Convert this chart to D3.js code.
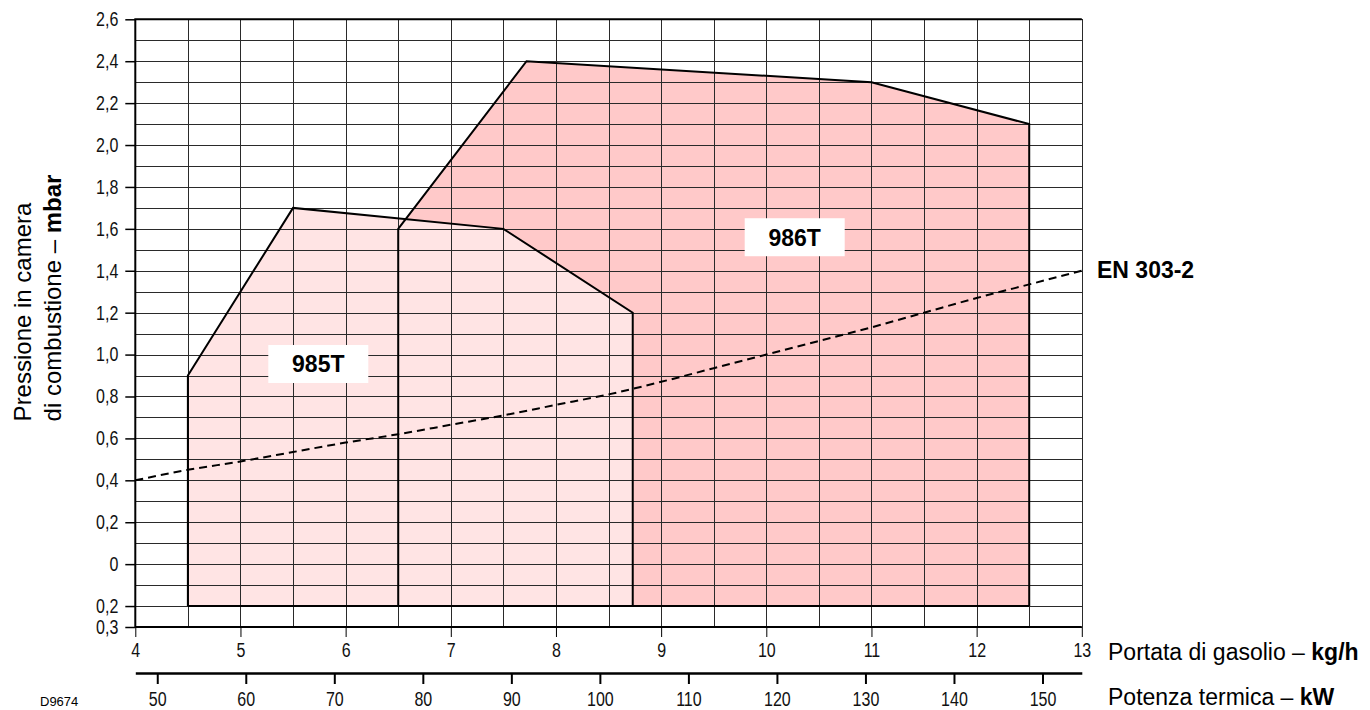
<!DOCTYPE html>
<html>
<head>
<meta charset="utf-8">
<script src="https://cdn.jsdelivr.net/npm/d3@7"></script>
<style>
  body { margin: 0; background: #fff; }
  svg { display: block; }
  .title { font-family: "Liberation Sans", Arial, sans-serif; fill: #000; }
</style>
</head>
<body>
<svg width="1370" height="710"></svg>
<script>
// Axis values.
const kgTicks = [4, 5, 6, 7, 8, 9, 10, 11, 12, 13];
const kwTicks = [50, 60, 70, 80, 90, 100, 110, 120, 130, 140, 150];
const mbarTicks = [-0.3, -0.2, 0, 0.2, 0.4, 0.6, 0.8, 1.0, 1.2, 1.4, 1.6, 1.8, 2.0, 2.2, 2.4, 2.6];
const mbarLabels = ["0,3", "0,2", "0", "0,2", "0,4", "0,6", "0,8", "1,0", "1,2", "1,4", "1,6", "1,8", "2,0", "2,2", "2,4", "2,6"];

// Working fields: [kg/h, mbar]
const field985 = [[4.5, -0.2], [4.5, 0.9], [5.5, 1.7], [7.5, 1.6], [8.73, 1.2], [8.73, -0.2]];
const field986 = [[6.5, -0.2], [6.5, 1.6], [7.72, 2.4], [11.0, 2.3], [12.5, 2.1], [12.5, -0.2]];

// EN 303-2 limit curve: [kg/h, mbar]
const enCurve = [[4, 0.40], [4.5, 0.45], [5, 0.49], [5.5, 0.535], [6, 0.58], [6.5, 0.62],
  [7, 0.665], [7.5, 0.71], [8, 0.76], [8.5, 0.81], [9, 0.87], [9.5, 0.935], [10, 1.0],
  [10.5, 1.065], [11, 1.13], [11.5, 1.2], [12, 1.27], [12.5, 1.335], [13, 1.40]];

// Model labels: [name, kg/h, mbar]
const modelLabels = [["985T", 5.74, 0.955], ["986T", 10.27, 1.56]];

const kwPerKg = 11.88;

const svg = d3.select("svg");
const x = d3.scaleLinear().domain([4, 13]).range([135.3, 1081.8]);
const y = d3.scaleLinear().domain([-0.3, 2.6]).range([627, 19.3]);
const xKw = d3.scaleLinear().domain([4 * kwPerKg, 13 * kwPerKg]).range(x.range());

const line = d3.line().x(d => x(d[0])).y(d => y(d[1]));

// squeeze tick labels horizontally, the original uses a narrow face
function narrow(sel) {
  const k = 0.8;
  sel.style("font-family", '"Liberation Sans", Arial, sans-serif')
    .style("font-size", "20px").style("fill", "#111")
    .each(function () {
      const t = d3.select(this);
      const tx = +t.attr("x") || 0;
      t.attr("x", tx / k).attr("transform", `scale(${k},1)`);
    });
}

// fills first, outlines later so they stay visible through the overlap
svg.append("path").attr("d", line(field986) + "Z").attr("fill", "#ffc9c9");
svg.append("path").attr("d", line(field985) + "Z").attr("fill", "#ffe4e4");

// grid
const grid = svg.append("g").attr("stroke", "#2a2a2a").attr("stroke-width", 1).attr("shape-rendering", "crispEdges");
grid.selectAll(".h").data(d3.range(-0.3, 2.61, 0.1)).join("line")
  .attr("x1", x(4)).attr("x2", x(13))
  .attr("y1", d => Math.round(y(d)) + 0.5).attr("y2", d => Math.round(y(d)) + 0.5);
grid.selectAll(".v").data(d3.range(4, 13.01, 0.5)).join("line")
  .attr("x1", d => Math.round(x(d)) + 0.5).attr("x2", d => Math.round(x(d)) + 0.5)
  .attr("y1", y(2.6)).attr("y2", y(-0.3));

// frame: thicker top, left and bottom
svg.append("path")
  .attr("d", `M${x(13)},${y(2.6)}H${x(4)}V${y(-0.3)}H${x(13)}`)
  .attr("fill", "none").attr("stroke", "#000").attr("stroke-width", 2);

// field outlines
svg.selectAll(".field").data([field986, field985]).join("path")
  .attr("d", d => line(d))
  .attr("fill", "none").attr("stroke", "#000").attr("stroke-width", 2)
  .attr("stroke-linejoin", "miter");
svg.selectAll(".fieldBase").data([field985, field986]).join("line")
  .attr("x1", d => x(d[0][0])).attr("x2", d => x(d[d.length - 1][0]))
  .attr("y1", y(-0.2)).attr("y2", y(-0.2))
  .attr("stroke", "#000").attr("stroke-width", 2);

// EN 303-2 curve
svg.append("path")
  .attr("d", d3.line().x(d => x(d[0])).y(d => y(d[1])).curve(d3.curveMonotoneX)(enCurve))
  .attr("fill", "none").attr("stroke", "#000").attr("stroke-width", 2)
  .attr("stroke-dasharray", "8,5");

// model labels in white boxes
const lab = svg.selectAll(".lab").data(modelLabels).join("g")
  .attr("transform", d => `translate(${x(d[1])},${y(d[2])})`);
lab.append("rect").attr("x", -50).attr("y", -19).attr("width", 100).attr("height", 38).attr("fill", "#fff");
lab.append("text").attr("class", "title").attr("text-anchor", "middle").attr("dy", "0.36em")
  .attr("font-size", 23).attr("font-weight", "bold").text(d => d[0]);

// left axis
const yAxis = d3.axisLeft(y).tickValues(mbarTicks).tickSize(10).tickPadding(7)
  .tickFormat((d, i) => mbarLabels[i]);
const gy = svg.append("g").attr("transform", `translate(${x(4)},0)`).call(yAxis);
gy.select(".domain").remove();
gy.selectAll(".tick line").attr("stroke", "#000").attr("stroke-width", 1.5);
gy.selectAll(".tick text").call(narrow);

// kg/h axis
const xAxis = d3.axisBottom(x).tickValues(kgTicks).tickSize(10).tickPadding(6);
const gx = svg.append("g").attr("transform", `translate(0,${y(-0.3)})`).call(xAxis);
gx.select(".domain").remove();
gx.selectAll(".tick line").attr("stroke", "#000").attr("stroke-width", 1);
gx.selectAll(".tick text").call(narrow);

// kW axis
const kwAxis = d3.axisBottom(xKw).tickValues(kwTicks).tickSize(11).tickPadding(8).tickSizeOuter(0);
const gk = svg.append("g").attr("transform", "translate(0,673)").call(kwAxis);
gk.select(".domain").attr("stroke", "#000").attr("stroke-width", 2.5);
gk.selectAll(".tick line").attr("stroke", "#000").attr("stroke-width", 2);
gk.selectAll(".tick text").call(narrow);

// titles
svg.append("text").attr("class", "title").attr("font-size", 23)
  .attr("x", 1108).attr("y", 660)
  .html('Portata di gasolio – <tspan font-weight="bold">kg/h</tspan>');
svg.append("text").attr("class", "title").attr("font-size", 23)
  .attr("x", 1108).attr("y", 705)
  .html('Potenza termica – <tspan font-weight="bold">kW</tspan>');
svg.append("text").attr("class", "title").attr("font-size", 23).attr("font-weight", "bold")
  .attr("x", 1097).attr("y", 278).text("EN 303-2");
svg.append("text").attr("class", "title").attr("font-size", 13)
  .attr("x", 40).attr("y", 706).text("D9674");

svg.append("text").attr("class", "title").attr("font-size", 24).attr("text-anchor", "middle")
  .attr("transform", "translate(31,312) rotate(-90)").text("Pressione in camera");
svg.append("text").attr("class", "title").attr("font-size", 24).attr("text-anchor", "middle")
  .attr("transform", "translate(61,298) rotate(-90)")
  .html('di combustione – <tspan font-weight="bold">mbar</tspan>');
</script>
</body>
</html>
